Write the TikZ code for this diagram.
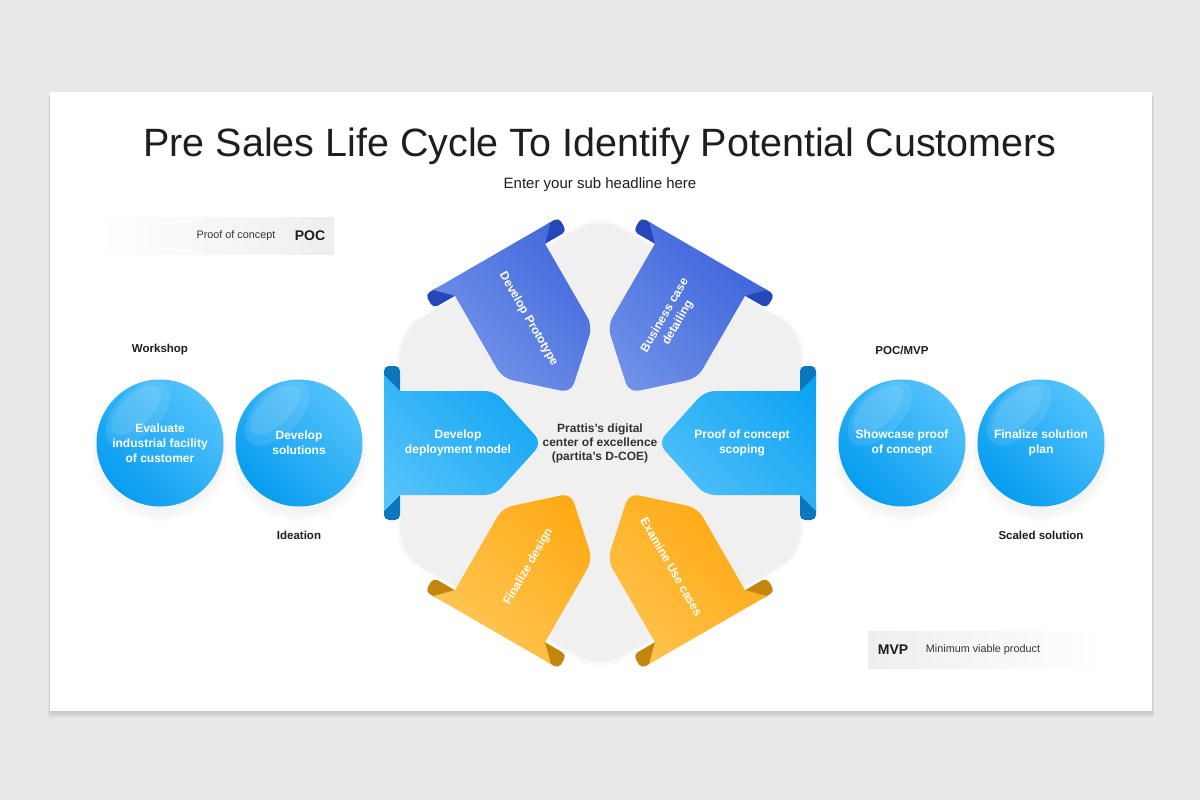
\documentclass[tikz,border=0pt]{standalone}
\usepackage{fontspec}
\setmainfont{Liberation Sans}
\usetikzlibrary{calc}
\definecolor{bg}{HTML}{E9E8E9}
\definecolor{hexgray}{HTML}{F0F0F0}
\definecolor{ink}{HTML}{1E1E1E}
\definecolor{ink2}{HTML}{333333}
\definecolor{blueL}{HTML}{7C9CEB}
\definecolor{blueD}{HTML}{3D63DA}
\definecolor{blueT}{HTML}{2448B8}
\definecolor{skyL}{HTML}{5EC6FB}
\definecolor{skyD}{HTML}{06A0F2}
\definecolor{skyT}{HTML}{0A76BE}
\definecolor{orL}{HTML}{FFC757}
\definecolor{orD}{HTML}{FFA304}
\definecolor{orT}{HTML}{C2850E}
\definecolor{cirL}{HTML}{52C2FB}
\definecolor{cirD}{HTML}{079DF0}
\definecolor{boxg}{HTML}{EEEEEE}
\newcommand\ribbon[5]{%
  \begin{scope}[shift={(600,443)},rotate=-#1]
    \fill[#4, rounded corners=5] (-216,-60) -- (-216,-77) -- (-200,-77) -- (-200,-45) -- cycle;
    \fill[#4, rounded corners=5] (-216,60) -- (-216,77) -- (-200,77) -- (-200,45) -- cycle;
    \coordinate (#5) at (-135,0);
  \end{scope}
  \begin{scope}
    \clip[shift={(600,443)},rotate=-#1] (-216,-68) -- (-200,-52) [rounded corners=10] -- (-105,-52) -- (-58,0) -- (-105,52) [sharp corners] -- (-200,52) -- (-216,68) -- cycle;
    \shade[top color=#3,bottom color=#2,shading angle=-45] ($(#5)+(-110,-110)$) rectangle ($(#5)+(110,110)$);
  \end{scope}
}
\tikzset{
  wt/.style={text=white, font=\fontsize{12}{15}\selectfont\bfseries, align=center},
  lab/.style={text=ink, font=\fontsize{11.5}{14}\selectfont\bfseries},
  bubble/.style={circle, minimum size=127pt, inner sep=0pt, top color=cirL, bottom color=cirD, shading angle=-45, wt},
}
\begin{document}
\begin{tikzpicture}[x=1pt,y=-1pt]
\useasboundingbox (0,0) rectangle (1200,800);
\fill[bg] (0,0) rectangle (1200,800);
% card shadow
\foreach \i in {1,...,8} {
  \fill[black,opacity=0.014] (50-\i*0.25,96) rectangle (1152+\i*0.25,711+\i*0.9);
}
\fill[white] (50,92) rectangle (1152,711);
% title
\node[anchor=base, font=\fontsize{39.5}{44}\selectfont, text=ink] (title) at (600,156) {Pre Sales Life Cycle To Identify Potential Customers};
\node[anchor=base, font=\fontsize{15}{18}\selectfont, text=ink] (sub) at (600,188) {Enter your sub headline here};
% legend boxes
\shade[left color=white, right color=boxg] (100,217) rectangle (334,254);
\node[font=\fontsize{10.8}{13}\selectfont, text=ink2] (poct) at (236,236) {Proof of concept};
\node[font=\fontsize{14}{16}\selectfont\bfseries, text=ink] (poc) at (310,236) {POC};
\shade[left color=boxg, right color=white] (868,631) rectangle (1105,668);
\node[font=\fontsize{14}{16}\selectfont\bfseries, text=ink] (mvp) at (893,650) {MVP};
\node[font=\fontsize{10.8}{13}\selectfont, text=ink2] (mvpt) at (983,650) {Minimum viable product};
% hexagon
\foreach \i in {1,...,5} {
  \fill[black,opacity=0.006,rounded corners=24] (600,217-\i) -- (800+\i,330) -- (800+\i,555) -- (600,668+\i*1.2) -- (401-\i,555) -- (401-\i,330) -- cycle;
}
\fill[hexgray, rounded corners=22] (600,217) -- (800,330) -- (800,555) -- (600,668) -- (401,555) -- (401,330) -- cycle;
% ribbons
\ribbon{60}{blueL}{blueD}{blueT}{a1}
\ribbon{120}{blueL}{blueD}{blueT}{a2}
\ribbon{0}{skyL}{skyD}{skyT}{a3}
\ribbon{180}{skyL}{skyD}{skyT}{a4}
\ribbon{300}{orL}{orD}{orT}{a5}
\ribbon{240}{orL}{orD}{orT}{a6}
\node[wt, rotate=-60] (t1) at ($(600,443)+(240:143)$) {Develop Prototype};
\node[wt, rotate=60] (t2) at ($(600,443)+(300:143)$) {Business case\\detailing};
\node[wt] (t3) at ($(600,443)+(180:142)$) {Develop\\deployment model};
\node[wt] (t4) at ($(600,443)+(0:142)$) {Proof of concept\\scoping};
\node[wt, rotate=60] (t5) at ($(600,443)+(120:143)$) {Finalize design};
\node[wt, rotate=-60] (t6) at ($(600,443)+(60:143)$) {Examine Use cases};
\node[text=ink2, font=\fontsize{12}{14}\selectfont\bfseries, align=center] (coe) at (600,443) {Prattis's digital\\center of excellence\\(partita's D-COE)};
% bubbles
\foreach \cx in {160,299,902,1041} {
  \foreach \i in {1,...,6} {
    \fill[black,opacity=0.009] (\cx,447+\i) circle (62+\i*1.3);
  }
}
\node[bubble] (c1) at (160,443) {};
\node[bubble] (c2) at (299,443) {};
\node[bubble] (c3) at (902,443) {};
\node[bubble] (c4) at (1041,443) {};
\foreach \c in {c1,c2,c3,c4} {
  \begin{scope}
    \clip (\c) circle (63.5);
    \fill[white, opacity=0.10] ($(\c)+(-22,-30)$) ellipse [x radius=40, y radius=22, rotate=45];
    \fill[white, opacity=0.10] ($(\c)+(-24,-33)$) ellipse [x radius=32, y radius=15, rotate=45];
  \end{scope}
}
\node[wt] (c1t) at (c1) {Evaluate\\industrial facility\\of customer};
\node[wt] (c2t) at (c2) {Develop\\solutions};
\node[wt] (c3t) at (c3) {Showcase proof\\of concept};
\node[wt] (c4t) at (c4) {Finalize solution\\plan};
\node[lab] (w) at (160,350) {Workshop};
\node[lab] (id) at (299,535) {Ideation};
\node[lab] (pm) at (902,350) {POC/MVP};
\node[lab] (ss) at (1041,535) {Scaled solution};
\end{tikzpicture}
\end{document}
